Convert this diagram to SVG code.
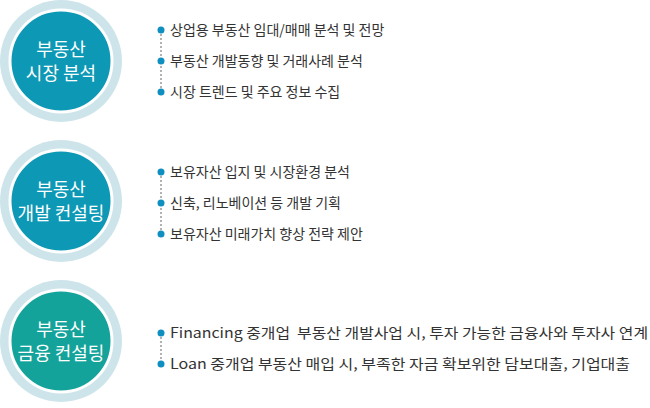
<svg xmlns="http://www.w3.org/2000/svg" width="650" height="408" viewBox="0 0 650 408">
<style>
.ring{fill:#cde5ea}
.in{stroke:#fff;stroke-width:3}
.t{font-family:"Noto Sans CJK KR","Noto Sans",sans-serif;font-size:18px;fill:#fff;text-anchor:middle}
.l{font-family:"Noto Sans CJK KR","Noto Sans",sans-serif;font-size:14px;fill:#333}
.d{fill:#0f8fc0}
.v{stroke:#999;stroke-width:1.5;stroke-dasharray:2 2}
</style>
<g id="node1"><circle class="ring" cx="61" cy="61" r="61"/><circle class="in" cx="61" cy="61" r="51" fill="#0d98b5"/><text class="t" x="61" y="56">부동산</text><text class="t" x="61" y="80">시장 분석</text></g>
<g id="node2"><circle class="ring" cx="61" cy="201" r="61"/><circle class="in" cx="61" cy="201" r="51" fill="#0d98b5"/><text class="t" x="61" y="196">부동산</text><text class="t" x="61" y="220">개발 컨설팅</text></g>
<g id="node3"><circle class="ring" cx="61" cy="341" r="61"/><circle class="in" cx="61" cy="341" r="51" fill="#14a39a"/><text class="t" x="61" y="336">부동산</text><text class="t" x="61" y="360">금융 컨설팅</text></g>
<g id="connectors">
<line class="v" x1="161" y1="30" x2="161" y2="92"/>
<line class="v" x1="161" y1="172" x2="161" y2="234"/>
<line class="v" x1="161" y1="333" x2="161" y2="364"/>
<circle class="d" cx="161" cy="30" r="3.5"/><circle class="d" cx="161" cy="61" r="3.5"/><circle class="d" cx="161" cy="92" r="3.5"/>
<circle class="d" cx="161" cy="172" r="3.5"/><circle class="d" cx="161" cy="203" r="3.5"/><circle class="d" cx="161" cy="234" r="3.5"/>
<circle class="d" cx="161" cy="333" r="3.5"/><circle class="d" cx="161" cy="364" r="3.5"/>
</g>
<g id="list1"><text class="l" x="170" y="35">상업용 부동산 임대/매매 분석 및 전망</text><text class="l" x="170" y="66">부동산 개발동향 및 거래사례 분석</text><text class="l" x="170" y="97">시장 트렌드 및 주요 정보 수집</text></g>
<g id="list2"><text class="l" x="170" y="177">보유자산 입지 및 시장환경 분석</text><text class="l" x="170" y="208">신축, 리노베이션 등 개발 기획</text><text class="l" x="170" y="239">보유자산 미래가치 향상 전략 제안</text></g>
<g id="list3"><text class="l" x="170" y="338" textLength="478" lengthAdjust="spacingAndGlyphs" xml:space="preserve">Financing 중개업  부동산 개발사업 시, 투자 가능한 금융사와 투자사 연계</text><text class="l" x="170" y="369" textLength="460" lengthAdjust="spacingAndGlyphs">Loan 중개업 부동산 매입 시, 부족한 자금 확보위한 담보대출, 기업대출</text></g>
</svg>
